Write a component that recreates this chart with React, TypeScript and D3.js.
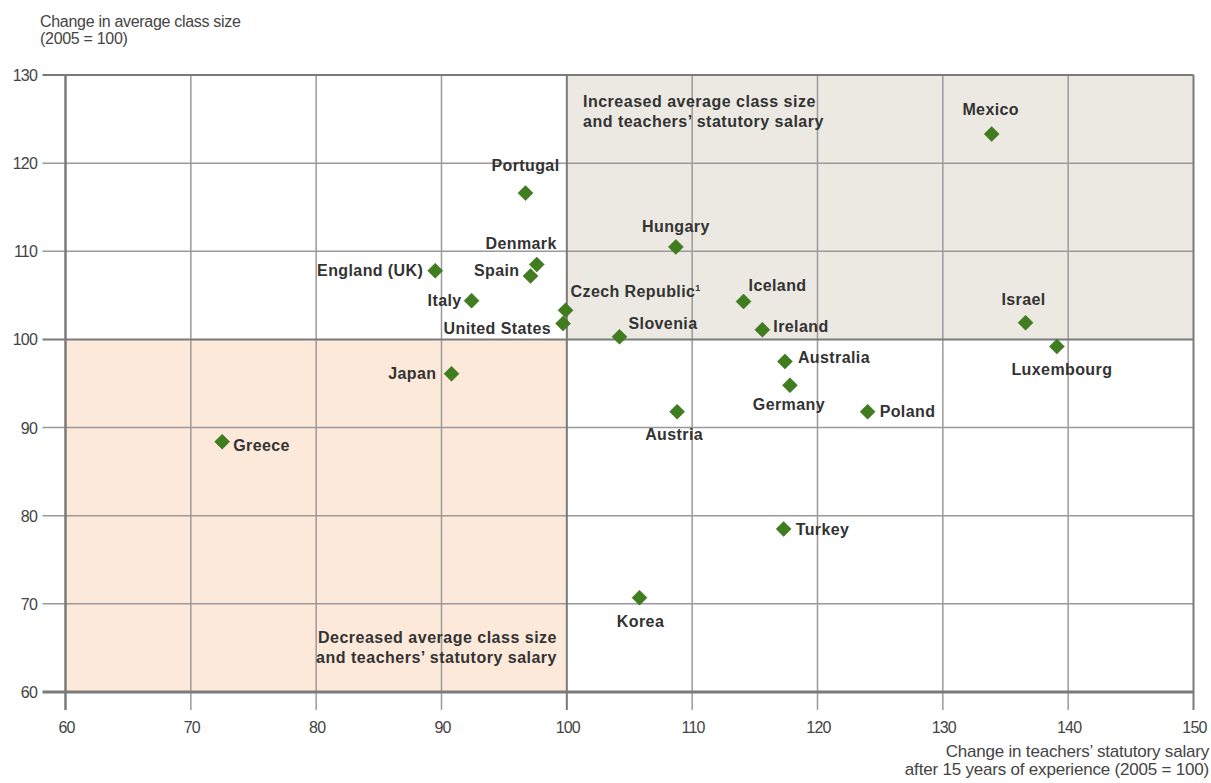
import React from "react";
import * as d3 from "d3";

const countries = ["Greece","Japan","England (UK)","Italy","Portugal","Denmark","Spain","Czech Republic","United States","Slovenia","Hungary","Austria","Korea","Iceland","Ireland","Australia","Germany","Turkey","Poland","Mexico","Israel","Luxembourg"];
const salaryChange = [72.5,90.8,89.5,92.4,96.7,97.6,97.1,99.9,99.7,104.2,108.7,108.8,105.8,114.1,115.6,117.4,117.8,117.3,124.0,133.9,136.6,139.1];
const classSizeChange = [88.4,96.1,107.8,104.4,116.6,108.5,107.2,103.3,101.8,100.3,110.5,91.8,70.7,104.3,101.1,97.5,94.8,78.5,91.8,123.3,101.9,99.2];
// label placement: [anchor, dx, dy]
const labelPos: [string, number, number][] = [
  ["start",11,4],["end",-15,0],["end",-12,0],["end",-10,0],["middle",0,-27],["end",20,-21],["end",-11,-5],
  ["start",5,-18],["end",-12,5],["start",9,-13],["middle",0,-20],["middle",-3,23],["middle",1,24],["start",5,-16],
  ["start",11,-3],["start",13,-3],["middle",-1,20],["start",12,1],["start",12,0],["middle",-1,-24],["middle",-2,-23],["middle",5,24]
];
const xTicks = [60,70,80,90,100,110,120,130,140,150];
const yTicks = [60,70,80,90,100,110,120,130];

export default function App() {
  const W = 1211, H = 783;
  const x = d3.scaleLinear().domain([60,150]).range([65.5,1193.5]);
  const y = d3.scaleLinear().domain([60,130]).range([692,75]);
  const gridC = "#9a9a9a";
  const darkC = "#7a7a7a";
  const font = "'Liberation Sans', Arial, sans-serif";
  const diamond = (cx: number, cy: number, r: number) => `M${cx},${cy-r}L${cx+r},${cy}L${cx},${cy+r}L${cx-r},${cy}Z`;
  return (
    <div style={{position:"absolute",left:0,top:0}}>
      <svg width={W} height={H} style={{display:"block",background:"#fff"}}>
        <rect x={x(100)} y={y(130)} width={x(150)-x(100)} height={y(100)-y(130)} fill="#ece9e2"/>
        <rect x={x(60)} y={y(100)} width={x(100)-x(60)} height={y(60)-y(100)} fill="#fce9da"/>
        {xTicks.filter(t=>t>60&&t<150&&t!==100).map(t=>(
          <line key={"gx"+t} x1={x(t)} x2={x(t)} y1={y(130)} y2={y(60)+18} stroke={gridC} strokeWidth={1.5}/>
        ))}
        {yTicks.filter(t=>t>60&&t<130&&t!==100).map(t=>(
          <line key={"gy"+t} x1={x(60)-23} x2={x(150)} y1={y(t)} y2={y(t)} stroke={gridC} strokeWidth={1.5}/>
        ))}
        <line x1={x(100)} x2={x(100)} y1={y(130)} y2={y(60)+18} stroke={darkC} strokeWidth={2}/>
        <line x1={x(60)-23} x2={x(150)} y1={y(100)} y2={y(100)} stroke={darkC} strokeWidth={2}/>
        <line x1={x(60)-23} x2={x(150)} y1={y(130)} y2={y(130)} stroke={darkC} strokeWidth={2}/>
        <line x1={x(150)} x2={x(150)} y1={y(130)} y2={y(60)+18} stroke={darkC} strokeWidth={2}/>
        <line x1={x(60)} x2={x(60)} y1={y(130)} y2={y(60)+18} stroke={darkC} strokeWidth={2.5}/>
        <line x1={x(60)-23} x2={x(150)} y1={y(60)} y2={y(60)} stroke={darkC} strokeWidth={3}/>
        {xTicks.map(t=>(
          <text key={"xl"+t} x={x(t)+1} y={y(60)+41} textAnchor="middle" fontFamily={font} fontSize={16} fill="#444" letterSpacing={-0.8}>{t}</text>
        ))}
        {yTicks.map(t=>(
          <text key={"yl"+t} x={37} y={y(t)+6} textAnchor="end" fontFamily={font} fontSize={16} fill="#444" letterSpacing={-0.8}>{t}</text>
        ))}
        <text x={40} y={27} fontFamily={font} fontSize={16} fill="#444" letterSpacing={-0.3}>Change in average class size</text>
        <text x={40} y={44} fontFamily={font} fontSize={16} fill="#444" letterSpacing={-0.3}>(2005 = 100)</text>
        <text x={1209} y={757} textAnchor="end" fontFamily={font} fontSize={17} fill="#444" letterSpacing={-0.2}>Change in teachers’ statutory salary</text>
        <text x={1209} y={775} textAnchor="end" fontFamily={font} fontSize={17} fill="#444" letterSpacing={-0.2}>after 15 years of experience (2005 = 100)</text>
        <text x={583} y={107} fontFamily={font} fontSize={16} fontWeight="bold" fill="#333" letterSpacing={0.5}>Increased average class size</text>
        <text x={583} y={127} fontFamily={font} fontSize={16} fontWeight="bold" fill="#333" letterSpacing={0.5}>and teachers’ statutory salary</text>
        <text x={557} y={643} textAnchor="end" fontFamily={font} fontSize={16} fontWeight="bold" fill="#333" letterSpacing={0.5}>Decreased average class size</text>
        <text x={557} y={663} textAnchor="end" fontFamily={font} fontSize={16} fontWeight="bold" fill="#333" letterSpacing={0.5}>and teachers’ statutory salary</text>
        {countries.map((c,i)=>{
          const cx = x(salaryChange[i]), cy = y(classSizeChange[i]);
          const [a,dx,dy] = labelPos[i];
          return (
            <g key={c}>
              <path d={diamond(cx,cy,7.5)} fill="#3f7d1f" stroke="#35691a" strokeWidth={0.5}/>
              <text x={cx+dx} y={cy+dy+5} textAnchor={a as any} fontFamily={font} fontSize={16} fontWeight="bold" fill="#333" letterSpacing={0.4}>
                {c}{c==="Czech Republic" ? <tspan dy={-6} fontSize={9}>1</tspan> : null}
              </text>
            </g>
          );
        })}
      </svg>
    </div>
  );
}
